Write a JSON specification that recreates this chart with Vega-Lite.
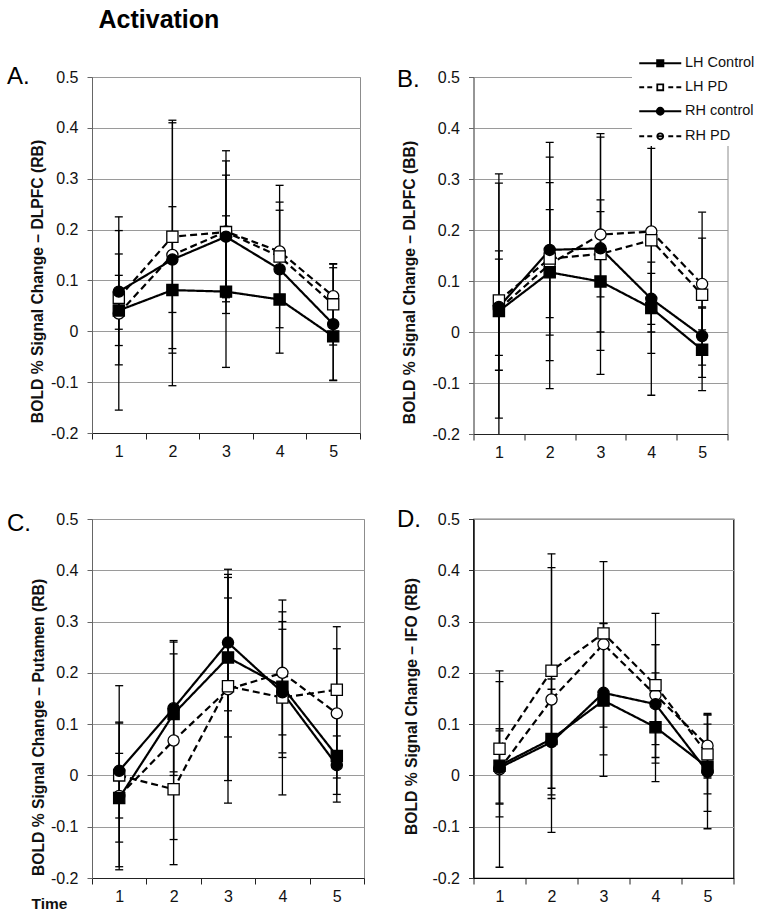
{
  "$schema": "https://vega.github.io/schema/vega-lite/v6.json",
  "background": "white",
  "padding": {"left": 6, "top": 7, "right": 0, "bottom": 5},
  "autosize": {"type": "pad"},
  "config": {
    "font": "Liberation Sans",
    "view": {"stroke": "#8c8c8c", "strokeWidth": 1},
    "axis": {"labelColor": "#111", "titleColor": "#111", "labelFontSize": 16, "labelFlush": false, "labelOverlap": false},
    "title": {"color": "black"},
    "legend": {"orient": "none", "legendX": 158.5, "legendY": -24, "title": null, "fillColor": "white", "padding": 3, "labelFontSize": 14.5, "labelColor": "#111", "labelFont": "Liberation Sans", "symbolSize": 49, "symbolStrokeWidth": 1.8, "symbolStrokeColor": "black", "symbolOpacity": 1, "symbolOffset": 18, "labelOffset": 17.5, "rowPadding": 9, "labelLimit": 300}
  },
  "title": {"text": "Activation", "anchor": "start", "fontSize": 25, "fontWeight": "bold", "dx": 92, "offset": 20},
  "datasets": {
    "d": [
      {"p":"A","s":"RH PD","t":1,"m":0.035,"lo":-0.155,"hi":0.225},
      {"p":"A","s":"RH PD","t":2,"m":0.15,"lo":-0.107,"hi":0.41},
      {"p":"A","s":"RH PD","t":3,"m":0.196,"lo":0.058,"hi":0.335},
      {"p":"A","s":"RH PD","t":4,"m":0.157,"lo":0.061,"hi":0.254},
      {"p":"A","s":"RH PD","t":5,"m":0.069,"lo":0.006,"hi":0.132},
      {"p":"A","s":"LH PD","t":1,"m":0.066,"lo":-0.066,"hi":0.198},
      {"p":"A","s":"LH PD","t":2,"m":0.186,"lo":-0.043,"hi":0.415},
      {"p":"A","s":"LH PD","t":3,"m":0.195,"lo":0.035,"hi":0.355},
      {"p":"A","s":"LH PD","t":4,"m":0.147,"lo":0.056,"hi":0.238},
      {"p":"A","s":"LH PD","t":5,"m":0.053,"lo":-0.027,"hi":0.133},
      {"p":"A","s":"RH control","t":1,"m":0.078,"lo":0.004,"hi":0.152},
      {"p":"A","s":"RH control","t":2,"m":0.141,"lo":0.037,"hi":0.245},
      {"p":"A","s":"RH control","t":3,"m":0.186,"lo":0.066,"hi":0.307},
      {"p":"A","s":"RH control","t":4,"m":0.122,"lo":-0.043,"hi":0.287},
      {"p":"A","s":"RH control","t":5,"m":0.014,"lo":-0.097,"hi":0.125},
      {"p":"A","s":"LH Control","t":1,"m":0.041,"lo":-0.028,"hi":0.11},
      {"p":"A","s":"LH Control","t":2,"m":0.081,"lo":-0.034,"hi":0.196},
      {"p":"A","s":"LH Control","t":3,"m":0.078,"lo":-0.071,"hi":0.227},
      {"p":"A","s":"LH Control","t":4,"m":0.0625,"lo":0.007,"hi":0.119},
      {"p":"A","s":"LH Control","t":5,"m":-0.01,"lo":-0.096,"hi":0.076},

      {"p":"B","s":"RH PD","t":1,"m":0.045,"lo":-0.22,"hi":0.31},
      {"p":"B","s":"RH PD","t":2,"m":0.133,"lo":-0.111,"hi":0.372},
      {"p":"B","s":"RH PD","t":3,"m":0.191,"lo":0.0,"hi":0.382},
      {"p":"B","s":"RH PD","t":4,"m":0.197,"lo":-0.124,"hi":0.518},
      {"p":"B","s":"RH PD","t":5,"m":0.094,"lo":0.004,"hi":0.184},
      {"p":"B","s":"LH PD","t":1,"m":0.062,"lo":-0.169,"hi":0.292},
      {"p":"B","s":"LH PD","t":2,"m":0.144,"lo":-0.056,"hi":0.343},
      {"p":"B","s":"LH PD","t":3,"m":0.153,"lo":-0.083,"hi":0.389},
      {"p":"B","s":"LH PD","t":4,"m":0.18,"lo":0.0,"hi":0.36},
      {"p":"B","s":"LH PD","t":5,"m":0.073,"lo":-0.089,"hi":0.235},
      {"p":"B","s":"RH control","t":1,"m":0.049,"lo":-0.046,"hi":0.143},
      {"p":"B","s":"RH control","t":2,"m":0.161,"lo":0.028,"hi":0.293},
      {"p":"B","s":"RH control","t":3,"m":0.164,"lo":0.069,"hi":0.259},
      {"p":"B","s":"RH control","t":4,"m":0.065,"lo":0.015,"hi":0.115},
      {"p":"B","s":"RH control","t":5,"m":-0.008,"lo":-0.065,"hi":0.049},
      {"p":"B","s":"LH Control","t":1,"m":0.041,"lo":-0.075,"hi":0.159},
      {"p":"B","s":"LH Control","t":2,"m":0.117,"lo":-0.006,"hi":0.24},
      {"p":"B","s":"LH Control","t":3,"m":0.099,"lo":-0.036,"hi":0.236},
      {"p":"B","s":"LH Control","t":4,"m":0.047,"lo":-0.042,"hi":0.137},
      {"p":"B","s":"LH Control","t":5,"m":-0.035,"lo":-0.115,"hi":0.047},

      {"p":"C","s":"RH PD","t":1,"m":-0.04,"lo":-0.184,"hi":0.104},
      {"p":"C","s":"RH PD","t":2,"m":0.068,"lo":-0.125,"hi":0.26},
      {"p":"C","s":"RH PD","t":3,"m":0.168,"lo":-0.01,"hi":0.346},
      {"p":"C","s":"RH PD","t":4,"m":0.2,"lo":0.079,"hi":0.319},
      {"p":"C","s":"RH PD","t":5,"m":0.121,"lo":-0.005,"hi":0.247},
      {"p":"C","s":"LH PD","t":1,"m":0.0,"lo":-0.178,"hi":0.175},
      {"p":"C","s":"LH PD","t":2,"m":-0.027,"lo":-0.174,"hi":0.12},
      {"p":"C","s":"LH PD","t":3,"m":0.174,"lo":-0.054,"hi":0.402},
      {"p":"C","s":"LH PD","t":4,"m":0.152,"lo":-0.038,"hi":0.342},
      {"p":"C","s":"LH PD","t":5,"m":0.167,"lo":0.044,"hi":0.29},
      {"p":"C","s":"RH control","t":1,"m":0.009,"lo":-0.083,"hi":0.102},
      {"p":"C","s":"RH control","t":2,"m":0.131,"lo":0.0,"hi":0.263},
      {"p":"C","s":"RH control","t":3,"m":0.259,"lo":0.126,"hi":0.392},
      {"p":"C","s":"RH control","t":4,"m":0.162,"lo":0.035,"hi":0.285},
      {"p":"C","s":"RH control","t":5,"m":0.02,"lo":-0.037,"hi":0.077},
      {"p":"C","s":"LH Control","t":1,"m":-0.044,"lo":-0.13,"hi":0.043},
      {"p":"C","s":"LH Control","t":2,"m":0.12,"lo":0.007,"hi":0.237},
      {"p":"C","s":"LH Control","t":3,"m":0.23,"lo":0.075,"hi":0.386},
      {"p":"C","s":"LH Control","t":4,"m":0.173,"lo":0.044,"hi":0.3},
      {"p":"C","s":"LH Control","t":5,"m":0.038,"lo":-0.052,"hi":0.128},

      {"p":"D","s":"RH PD","t":1,"m":0.012,"lo":-0.179,"hi":0.204},
      {"p":"D","s":"RH PD","t":2,"m":0.148,"lo":-0.111,"hi":0.405},
      {"p":"D","s":"RH PD","t":3,"m":0.256,"lo":0.094,"hi":0.417},
      {"p":"D","s":"RH PD","t":4,"m":0.157,"lo":0.06,"hi":0.255},
      {"p":"D","s":"RH PD","t":5,"m":0.058,"lo":-0.005,"hi":0.121},
      {"p":"D","s":"LH PD","t":1,"m":0.052,"lo":-0.081,"hi":0.183},
      {"p":"D","s":"LH PD","t":2,"m":0.204,"lo":-0.025,"hi":0.432},
      {"p":"D","s":"LH PD","t":3,"m":0.277,"lo":0.257,"hi":0.297},
      {"p":"D","s":"LH PD","t":4,"m":0.176,"lo":0.035,"hi":0.316},
      {"p":"D","s":"LH PD","t":5,"m":0.041,"lo":-0.036,"hi":0.118},
      {"p":"D","s":"RH control","t":1,"m":0.015,"lo":-0.056,"hi":0.087},
      {"p":"D","s":"RH control","t":2,"m":0.065,"lo":-0.038,"hi":0.168},
      {"p":"D","s":"RH control","t":3,"m":0.161,"lo":0.04,"hi":0.282},
      {"p":"D","s":"RH control","t":4,"m":0.139,"lo":0.024,"hi":0.255},
      {"p":"D","s":"RH control","t":5,"m":0.007,"lo":-0.104,"hi":0.118},
      {"p":"D","s":"LH Control","t":1,"m":0.019,"lo":-0.054,"hi":0.091},
      {"p":"D","s":"LH Control","t":2,"m":0.071,"lo":-0.045,"hi":0.188},
      {"p":"D","s":"LH Control","t":3,"m":0.146,"lo":-0.002,"hi":0.296},
      {"p":"D","s":"LH Control","t":4,"m":0.094,"lo":-0.012,"hi":0.2},
      {"p":"D","s":"LH Control","t":5,"m":0.016,"lo":-0.07,"hi":0.1}
    ]
  },
  "columns": 2,
  "spacing": {"row": 85, "column": 109.5},
  "bounds": "flush",
  "resolve": {
    "scale": {"shape": "independent", "fill": "independent", "strokeDash": "independent"},
    "legend": {"shape": "independent", "fill": "independent", "strokeDash": "independent"}
  },
  "concat": [
    {
      "width": 268, "height": 356,
      "title": {"text": "A.", "anchor": "start", "frame": "group", "fontSize": 24, "fontWeight": "normal", "dx": -85, "dy": 24},
      "data": {"name": "d"},
      "transform": [{"filter": "datum.p === 'A'"}],
      "encoding": {
        "x": {"field": "t", "type": "quantitative", "scale": {"domain": [0.5, 5.5], "nice": false, "zero": false},
          "axis": {"values": [0.5,1,1.5,2,2.5,3,3.5,4,4.5,5,5.5], "labelExpr": "datum.value % 1 === 0 ? '' + datum.value : ''", "tickOpacity": {"condition": {"test": "datum.value % 1 === 0", "value": 0}, "value": 1}, "tickSize": 6, "grid": false, "title": null, "domainColor": "#222", "tickColor": "#222", "labelPadding": 4}}
      },
      "layer": [
        {"mark": {"type": "rule", "color": "black", "strokeWidth": 1.3, "clip": true},
         "encoding": {
           "y": {"field": "lo", "type": "quantitative", "title": "BOLD % Signal Change \u2013 DLPFC (RB)", "scale": {"domain": [-0.2, 0.5], "nice": false, "zero": false},
             "axis": {"values": [-0.2,-0.1,0,0.1,0.2,0.3,0.4,0.5], "labelExpr": "datum.value === 0 ? '0' : (datum.value < 0 ? '-' + format(-datum.value, '.1f') : format(datum.value, '.1f'))", "grid": true, "gridColor": "#9a9a9a", "domainColor": "#666", "tickColor": "#666", "tickSize": 5, "labelPadding": 9, "titleFontSize": 15.7, "titleFontWeight": "bold", "titleX": -55, "titleY": 204, "titleAngle": -90, "titleBaseline": "middle", "titleAlign": "center"}},
           "y2": {"field": "hi"}, "detail": {"field": "s"}}},
        {"mark": {"type": "tick", "orient": "horizontal", "color": "black", "size": 8, "thickness": 1.3, "opacity": 1, "clip": true},
         "encoding": {"y": {"field": "lo", "type": "quantitative"}}},
        {"mark": {"type": "tick", "orient": "horizontal", "color": "black", "size": 8, "thickness": 1.3, "opacity": 1, "clip": true},
         "encoding": {"y": {"field": "hi", "type": "quantitative"}}},
        {"mark": {"type": "line", "color": "black", "strokeWidth": 2.2},
         "encoding": {"y": {"field": "m", "type": "quantitative"},
           "strokeDash": {"field": "s", "type": "nominal", "scale": {"domain": ["LH Control","LH PD","RH control","RH PD"], "range": [[1,0],[7,4],[1,0],[7,4]]}, "legend": null}}},
        {"mark": {"type": "point", "stroke": "black", "strokeWidth": 1.3, "opacity": 1, "size": 125},
         "encoding": {"y": {"field": "m", "type": "quantitative"},
           "shape": {"field": "s", "type": "nominal", "scale": {"domain": ["LH Control","LH PD","RH control","RH PD"], "range": ["square","square","circle","circle"]}, "legend": null},
           "fill": {"field": "s", "type": "nominal", "scale": {"domain": ["LH Control","LH PD","RH control","RH PD"], "range": ["black","white","black","white"]}, "legend": null}}}
      ]
    },
    {
      "width": 254, "height": 357,
      "title": {"text": "B.", "anchor": "start", "frame": "group", "fontSize": 24, "fontWeight": "normal", "dx": -76.5, "dy": 43},
      "data": {"name": "d"},
      "transform": [{"filter": "datum.p === 'B'"}],
      "encoding": {
        "x": {"field": "t", "type": "quantitative", "scale": {"domain": [0.5, 5.5], "nice": false, "zero": false},
          "axis": {"values": [0.5,1,1.5,2,2.5,3,3.5,4,4.5,5,5.5], "labelExpr": "datum.value % 1 === 0 ? '' + datum.value : ''", "tickOpacity": {"condition": {"test": "datum.value % 1 === 0", "value": 0}, "value": 1}, "tickSize": 6, "grid": false, "title": null, "domainColor": "#222", "tickColor": "#222", "labelPadding": 4}}
      },
      "layer": [
        {"mark": {"type": "rule", "color": "black", "strokeWidth": 1.3, "clip": true},
         "encoding": {
           "y": {"field": "lo", "type": "quantitative", "title": "BOLD % Signal Change \u2013 DLPFC (BB)", "scale": {"domain": [-0.2, 0.5], "nice": false, "zero": false},
             "axis": {"values": [-0.2,-0.1,0,0.1,0.2,0.3,0.4,0.5], "labelExpr": "datum.value === 0 ? '0' : (datum.value < 0 ? '-' + format(-datum.value, '.1f') : format(datum.value, '.1f'))", "grid": true, "gridColor": "#9a9a9a", "domainColor": "#666", "tickColor": "#666", "tickSize": 5, "labelPadding": 9, "titleFontSize": 15.7, "titleFontWeight": "bold", "titleX": -64, "titleY": 205, "titleAngle": -90, "titleBaseline": "middle", "titleAlign": "center"}},
           "y2": {"field": "hi"}, "detail": {"field": "s"}}},
        {"mark": {"type": "tick", "orient": "horizontal", "color": "black", "size": 8, "thickness": 1.3, "opacity": 1, "clip": true},
         "encoding": {"y": {"field": "lo", "type": "quantitative"}}},
        {"mark": {"type": "tick", "orient": "horizontal", "color": "black", "size": 8, "thickness": 1.3, "opacity": 1, "clip": true},
         "encoding": {"y": {"field": "hi", "type": "quantitative"}}},
        {"mark": {"type": "line", "color": "black", "strokeWidth": 2.2},
         "encoding": {"y": {"field": "m", "type": "quantitative"}, "detail": {"field": "s"},
           "strokeDash": {"condition": {"test": "indexof(datum.s, 'PD') >= 0", "value": [7, 4]}, "value": [1, 0]}}},
        {"mark": {"type": "point", "stroke": "black", "strokeWidth": 1.3, "opacity": 1, "size": 125},
         "encoding": {"y": {"field": "m", "type": "quantitative"},
           "shape": {"condition": {"test": "indexof(datum.s, 'LH') === 0", "value": "square"}, "value": "circle"},
           "fill": {"condition": {"test": "indexof(datum.s, 'PD') >= 0", "value": "white"}, "value": "black"}}},
        {"transform": [{"filter": "false"}],
         "mark": {"type": "point", "color": "black", "strokeWidth": 1.8, "opacity": 1, "filled": false},
         "encoding": {"y": {"field": "m", "type": "quantitative"},
           "shape": {"field": "s", "type": "nominal", "scale": {"domain": ["LH Control","LH PD","RH control","RH PD"], "range": [
             "M-6,0H6M-0.9,-0.9H0.9V0.9H-0.9ZM-0.45,-0.45H0.45V0.45H-0.45Z",
             "M-6,0H-4.6M-3.7,0H-2.3M2.3,0H3.7M4.6,0H6M-0.85,-0.85H0.85V0.85H-0.85Z",
             "M-6,0H6M1,0A1,1 0 1,1 -1,0A1,1 0 1,1 1,0ZM0.5,0A0.5,0.5 0 1,1 -0.5,0A0.5,0.5 0 1,1 0.5,0Z",
             "M-6,0H-4.6M-3.7,0H-2.3M2.3,0H3.7M4.6,0H6M-0.85,0H0.85M0.85,0A0.85,0.85 0 1,1 -0.85,0A0.85,0.85 0 1,1 0.85,0Z"]}}}}
      ]
    },
    {
      "width": 272, "height": 359,
      "title": {"text": "C.", "anchor": "start", "frame": "group", "fontSize": 24, "fontWeight": "normal", "dx": -85, "dy": 29},
      "data": {"name": "d"},
      "transform": [{"filter": "datum.p === 'C'"}],
      "encoding": {
        "x": {"field": "t", "type": "quantitative", "scale": {"domain": [0.5, 5.5], "nice": false, "zero": false},
          "axis": {"values": [0.5,1,1.5,2,2.5,3,3.5,4,4.5,5,5.5], "labelExpr": "datum.value % 1 === 0 ? '' + datum.value : ''", "tickOpacity": {"condition": {"test": "datum.value % 1 === 0", "value": 0}, "value": 1}, "tickSize": 6, "grid": false, "title": "Time", "titleFontSize": 15.5, "titleFontWeight": "bold", "titleX": -61, "titleY": 25, "titleAlign": "left", "titleBaseline": "middle", "domainColor": "#222", "tickColor": "#222", "labelPadding": 4}}
      },
      "layer": [
        {"mark": {"type": "rule", "color": "black", "strokeWidth": 1.3, "clip": true},
         "encoding": {
           "y": {"field": "lo", "type": "quantitative", "title": "BOLD % Signal Change \u2013 Putamen (RB)", "scale": {"domain": [-0.2, 0.5], "nice": false, "zero": false},
             "axis": {"values": [-0.2,-0.1,0,0.1,0.2,0.3,0.4,0.5], "labelExpr": "datum.value === 0 ? '0' : (datum.value < 0 ? '-' + format(-datum.value, '.1f') : format(datum.value, '.1f'))", "grid": true, "gridColor": "#9a9a9a", "domainColor": "#666", "tickColor": "#666", "tickSize": 5, "labelPadding": 9, "titleFontSize": 15.7, "titleFontWeight": "bold", "titleX": -54, "titleY": 208, "titleAngle": -90, "titleBaseline": "middle", "titleAlign": "center"}},
           "y2": {"field": "hi"}, "detail": {"field": "s"}}},
        {"mark": {"type": "tick", "orient": "horizontal", "color": "black", "size": 8, "thickness": 1.3, "opacity": 1, "clip": true},
         "encoding": {"y": {"field": "lo", "type": "quantitative"}}},
        {"mark": {"type": "tick", "orient": "horizontal", "color": "black", "size": 8, "thickness": 1.3, "opacity": 1, "clip": true},
         "encoding": {"y": {"field": "hi", "type": "quantitative"}}},
        {"mark": {"type": "line", "color": "black", "strokeWidth": 2.2},
         "encoding": {"y": {"field": "m", "type": "quantitative"},
           "strokeDash": {"field": "s", "type": "nominal", "scale": {"domain": ["LH Control","LH PD","RH control","RH PD"], "range": [[1,0],[7,4],[1,0],[7,4]]}, "legend": null}}},
        {"mark": {"type": "point", "stroke": "black", "strokeWidth": 1.3, "opacity": 1, "size": 125},
         "encoding": {"y": {"field": "m", "type": "quantitative"},
           "shape": {"field": "s", "type": "nominal", "scale": {"domain": ["LH Control","LH PD","RH control","RH PD"], "range": ["square","square","circle","circle"]}, "legend": null},
           "fill": {"field": "s", "type": "nominal", "scale": {"domain": ["LH Control","LH PD","RH control","RH PD"], "range": ["black","white","black","white"]}, "legend": null}}}
      ]
    },
    {
      "width": 260, "height": 359,
      "title": {"text": "D.", "anchor": "start", "frame": "group", "fontSize": 24, "fontWeight": "normal", "dx": -76.5, "dy": 25},
      "view": {"stroke": "black", "strokeWidth": 1.2},
      "data": {"name": "d"},
      "transform": [{"filter": "datum.p === 'D'"}],
      "encoding": {
        "x": {"field": "t", "type": "quantitative", "scale": {"domain": [0.5, 5.5], "nice": false, "zero": false},
          "axis": {"values": [0.5,1,1.5,2,2.5,3,3.5,4,4.5,5,5.5], "labelExpr": "datum.value % 1 === 0 ? '' + datum.value : ''", "tickOpacity": {"condition": {"test": "datum.value % 1 === 0", "value": 0}, "value": 1}, "tickSize": 6, "grid": false, "title": null, "domainColor": "#000", "tickColor": "#222", "labelPadding": 4}}
      },
      "layer": [
        {"mark": {"type": "rule", "color": "black", "strokeWidth": 1.3, "clip": true},
         "encoding": {
           "y": {"field": "lo", "type": "quantitative", "title": "BOLD % Signal Change \u2013 IFO (RB)", "scale": {"domain": [-0.2, 0.5], "nice": false, "zero": false},
             "axis": {"values": [-0.2,-0.1,0,0.1,0.2,0.3,0.4,0.5], "labelExpr": "datum.value === 0 ? '0' : (datum.value < 0 ? '-' + format(-datum.value, '.1f') : format(datum.value, '.1f'))", "grid": true, "gridColor": "#9a9a9a", "domainColor": "#000", "tickColor": "#333", "tickSize": 5, "labelPadding": 9, "titleFontSize": 15.7, "titleFontWeight": "bold", "titleX": -62, "titleY": 187, "titleAngle": -90, "titleBaseline": "middle", "titleAlign": "center"}},
           "y2": {"field": "hi"}, "detail": {"field": "s"}}},
        {"mark": {"type": "tick", "orient": "horizontal", "color": "black", "size": 8, "thickness": 1.3, "opacity": 1, "clip": true},
         "encoding": {"y": {"field": "lo", "type": "quantitative"}}},
        {"mark": {"type": "tick", "orient": "horizontal", "color": "black", "size": 8, "thickness": 1.3, "opacity": 1, "clip": true},
         "encoding": {"y": {"field": "hi", "type": "quantitative"}}},
        {"mark": {"type": "line", "color": "black", "strokeWidth": 2.2},
         "encoding": {"y": {"field": "m", "type": "quantitative"},
           "strokeDash": {"field": "s", "type": "nominal", "scale": {"domain": ["LH Control","LH PD","RH control","RH PD"], "range": [[1,0],[7,4],[1,0],[7,4]]}, "legend": null}}},
        {"mark": {"type": "point", "stroke": "black", "strokeWidth": 1.3, "opacity": 1, "size": 125},
         "encoding": {"y": {"field": "m", "type": "quantitative"},
           "shape": {"field": "s", "type": "nominal", "scale": {"domain": ["LH Control","LH PD","RH control","RH PD"], "range": ["square","square","circle","circle"]}, "legend": null},
           "fill": {"field": "s", "type": "nominal", "scale": {"domain": ["LH Control","LH PD","RH control","RH PD"], "range": ["black","white","black","white"]}, "legend": null}}}
      ]
    }
  ]
}
